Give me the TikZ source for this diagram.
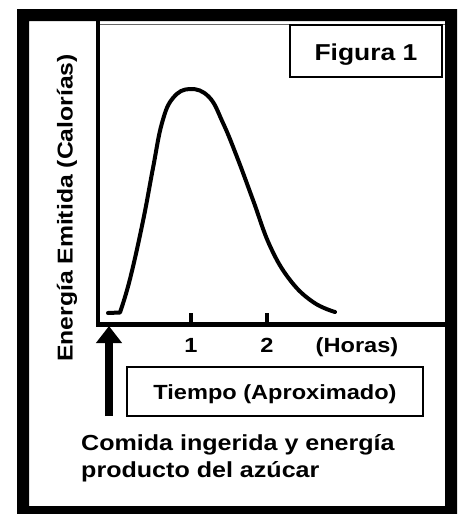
\documentclass[tikz,border=0pt]{standalone}
\usepackage{fontspec}
\setmainfont{Liberation Sans}[FakeStretch=1.15]
\usetikzlibrary{arrows.meta}
\begin{document}
\begin{tikzpicture}[x=1pt,y=-1pt,
  lbl/.style={font=\bfseries\fontsize{20.5}{24}\selectfont, inner sep=0pt},
  box/.style={draw, line width=2pt, inner sep=0pt},
  curve/.style={line width=4pt, line cap=round, line join=round}]
\useasboundingbox (0,0) rectangle (459,514);
% outer frame
\fill[even odd rule] (17,9) rectangle (457,514) (29,21) rectangle (445,506);
% plot top edge
\draw[black!60, line width=1pt] (100,24.5) -- (445,24.5);
% axes
\draw[line width=4pt] (98,21) -- (98,327);
\draw[line width=5pt] (96,324.5) -- (445,324.5);
% ticks
\draw[line width=4pt] (191,313) -- (191,323);
\draw[line width=4pt] (267,313) -- (267,323);
% curve
\draw[curve] (108,313) -- (120,312.5) -- plot[smooth, tension=0.7] coordinates {
  (120,312.5) (130,279) (143,221) (153,168) (162,123) (173,98) (190,89)
  (209,97) (223,123) (237,157) (253,200) (270,246) (290,280) (313,302) (335,312)};
% labels
\node[box, minimum width=152pt, minimum height=52pt, text height=18pt, text depth=0pt,
      font=\bfseries\fontsize{23}{27}\selectfont] (fig) at (366,51) {Figura 1};
\node[lbl, anchor=base] (t1) at (191,352) {1};
\node[lbl, anchor=base] (t2) at (267,352) {2};
\node[lbl, anchor=base] (hr) at (357,352) {(Horas)};
\node[box, lbl, minimum width=296pt, minimum height=49pt, text height=15pt, text depth=0pt]
      (tiempo) at (275,391.5) {Tiempo (Aproximado)};
\node[lbl, font=\bfseries\fontsize{21.5}{24}\selectfont, rotate=90, anchor=base]
      (ylab) at (72.5,208) {Energía Emitida (Calorías)};
\node[lbl, font=\bfseries\fontsize{21.8}{27}\selectfont, align=left, anchor=base west]
      (comida) at (81,477) {Comida ingerida y energía\\producto del azúcar};
% arrow
\coordinate (abot) at (109,416);
\coordinate (atip) at (109,326);
\draw[line width=8pt, -{Triangle[width=25pt,length=17pt]}] (abot) -- (atip);
\end{tikzpicture}
\end{document}
